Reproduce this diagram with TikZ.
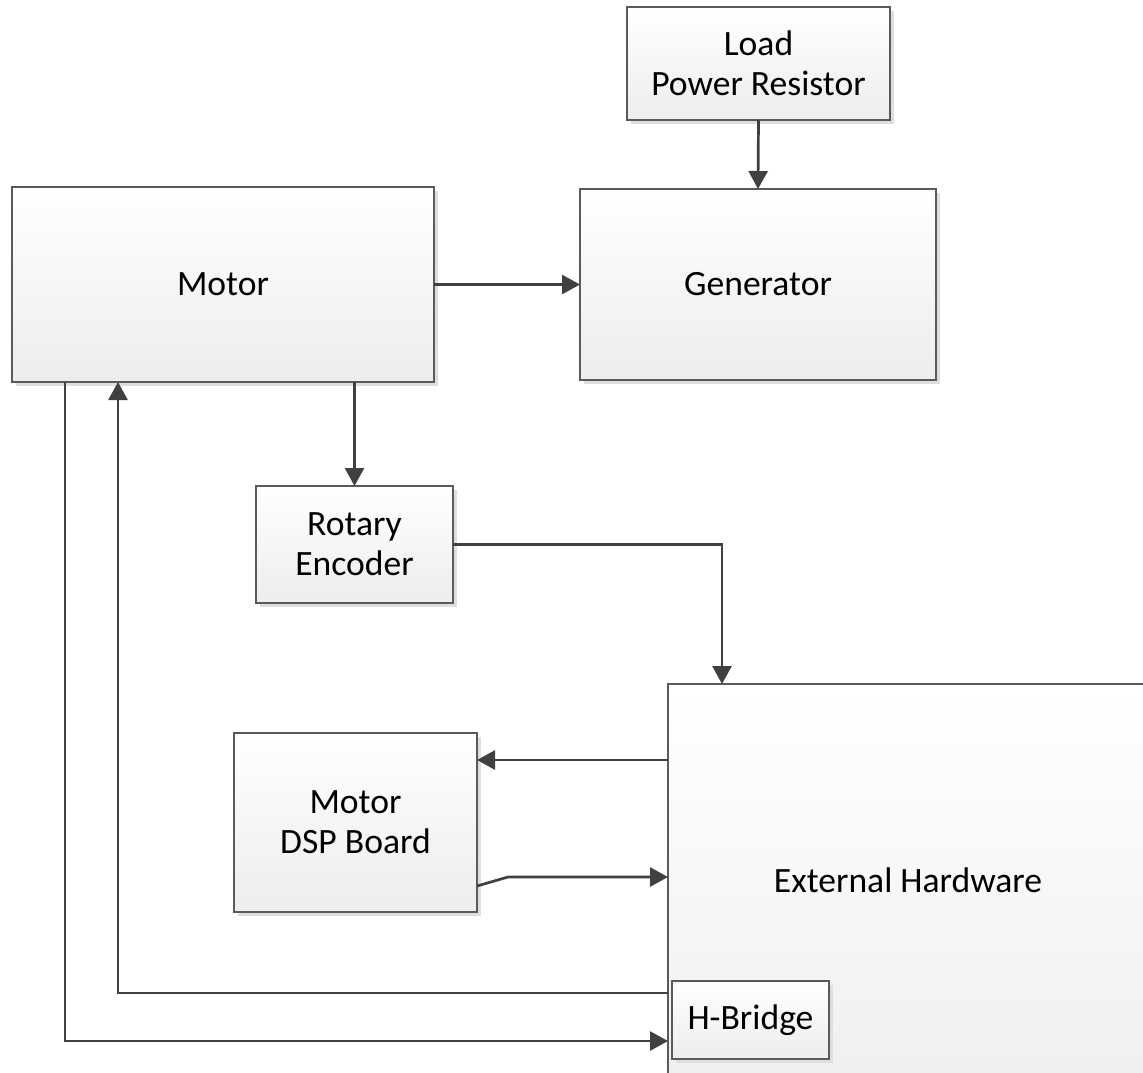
\documentclass[tikz,border=0pt]{standalone}
\usepackage{fontspec}
\setmainfont{Carlito}
\usetikzlibrary{arrows.meta,shadows,calc}
\definecolor{edge}{HTML}{5A5A5A}
\definecolor{wire}{HTML}{404040}
\definecolor{boxbot}{HTML}{EDEDED}
\begin{document}
\begin{tikzpicture}[x=1pt,y=-1pt,
  blk/.style={draw=edge, line width=1.3pt, inner sep=0pt, outer sep=0pt,
    top color=white, bottom color=boxbot, align=center,
    font=\fontsize{35.6}{40}\selectfont,
    drop shadow={shadow xshift=4pt, shadow yshift=-4pt, fill=black!13, opacity=1}},
  wireln/.style={draw=wire, line width=2.7pt},
  arr/.style={wireln, -{Triangle[length=18pt,width=19pt]}}
]
\useasboundingbox (0,0) rectangle (1143,1072);
\node[blk, minimum width=500pt, minimum height=392pt, top color=white, bottom color=black!6] (ext) at (918,880) {\hspace*{-20pt}External Hardware};
\node[blk, minimum width=263pt, minimum height=113pt] (load) at (758.5,63.5) {Load\\Power Resistor};
\node[blk, minimum width=422pt, minimum height=195pt] (motor) at (223,284.5) {Motor};
\node[blk, minimum width=356pt, minimum height=191pt] (gen) at (758,284.5) {Generator};
\node[blk, minimum width=197pt, minimum height=117pt] (enc) at (354.5,544.5) {Rotary\\Encoder};
\node[blk, minimum width=243pt, minimum height=179pt] (dsp) at (355.5,822.5) {Motor\\DSP Board};
\node[blk, minimum width=157pt, minimum height=78pt] (hb) at (750.5,1020) {H-Bridge};

\coordinate (encturn) at (722,545);
\coordinate (dspbend) at (508,877);

\draw[arr] (load.south) -- (gen.north);
\draw[arr] (motor.east) -- (gen.west);
\draw[arr] (motor.south -| enc.north) -- (enc.north);
\draw[arr] (enc.east) -| (ext.north west -| encturn);
\draw[arr] (ext.west |- 0,760) -- (dsp.east |- 0,760);
\draw[arr] (dsp.east |- 0,886) -- (dspbend) -- (ext.west |- dspbend);
\draw[arr] (ext.west |- 0,993) -| (motor.south -| 118,0);
\draw[arr] (motor.south -| 65,0) |- (ext.west |- 0,1041);
\end{tikzpicture}
\end{document}
